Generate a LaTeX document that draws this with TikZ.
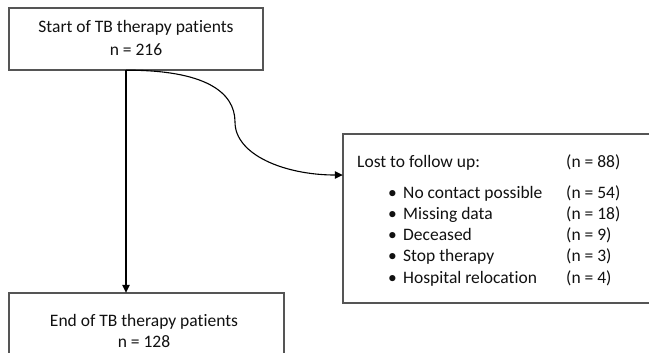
\documentclass[tikz,border=0pt]{standalone}
\usepackage{fontspec}
\setmainfont[Ligatures={NoCommon}]{Carlito}
\usetikzlibrary{arrows.meta}
\definecolor{boxgrey}{HTML}{555555}
\definecolor{txt}{HTML}{111111}
\begin{document}
\begin{tikzpicture}[x=1bp,y=-1bp,
  box/.style={draw=boxgrey,line width=1.5bp,fill=white},
  lbl/.style={inner sep=0pt,anchor=base,text=txt,font=\fontsize{17.5bp}{20bp}\selectfont},
  lblw/.style={lbl,anchor=base west},
  conn/.style={line width=1.1bp,-{Triangle[length=8bp,width=7.5bp]}}]
\useasboundingbox (0,0) rectangle (649,352);
\clip (0,0) rectangle (649,352);
% boxes
\path[box] (9,8) rectangle (263,70);
\node[inner sep=0pt,minimum width=254bp,minimum height=62bp] (top) at (136,39) {};
\path[box] (9,293) rectangle (284,360);
\node[inner sep=0pt,minimum width=275bp,minimum height=67bp] (bottom) at (146.5,326.5) {};
\path[box] (343,134) rectangle (655,303);
\node[inner sep=0pt,minimum width=312bp,minimum height=169bp] (lost) at (499,218.5) {};
% texts
\node[lbl] (t1) at (136,32) {Start of TB therapy patients};
\node[lbl] (t2) at (136,55) {n = 216};
\node[lbl] (b1) at (144,326) {End of TB therapy patients};
\node[lbl] (b2) at (144,347) {n = 128};
\node[lblw] (l0) at (357,167) {Lost to follow up:};
\node[lblw] (n0) at (566,167) {(n = 88)};
\foreach \y/\t/\n [count=\i] in {198/No contact possible/54, 219/Missing data/18, 240/Deceased/9, 261/Stop therapy/3, 283/Hospital relocation/4}{
  \node[lblw] (bu\i) at (388,\y) {•};
  \node[lblw] (li\i) at (403,\y) {\t};
  \node[lblw] (ni\i) at (566,\y) {(n = \n)};
}
% connectors
\coordinate (vs) at (top.south -| 126,0);
\coordinate (ce) at (lost.west |- 0,175);
\draw[conn] (vs) -- (vs |- bottom.north);
\draw[conn] (vs) .. controls (205,70) and (235,92) .. (235,122)
  .. controls (235,155) and (285,175) .. (ce);
\end{tikzpicture}
\end{document}
